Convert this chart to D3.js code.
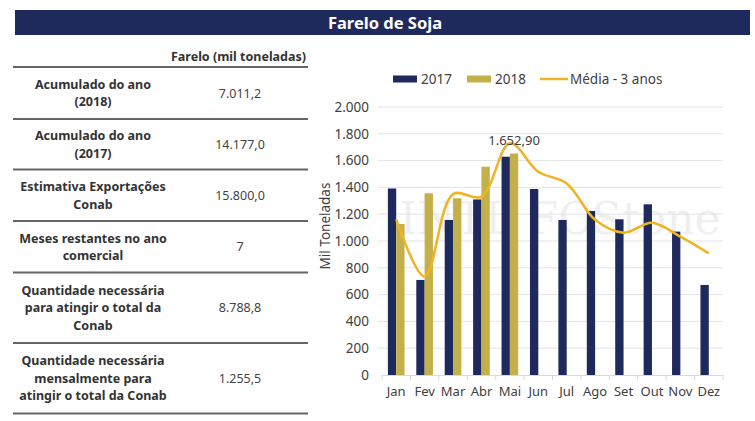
<!DOCTYPE html>
<html><head><meta charset="utf-8">
<script src="https://cdn.jsdelivr.net/npm/d3@7"></script>
<style>body{margin:0;background:#fff}svg{display:block}</style>
</head><body>
<svg id="c" width="755" height="421"></svg>
<script>
const title = "Farelo de Soja";
const tableHeader = "Farelo (mil toneladas)";
const tableLabels = [
  ["Acumulado do ano", "(2018)"],
  ["Acumulado do ano", "(2017)"],
  ["Estimativa Exportações", "Conab"],
  ["Meses restantes no ano", "comercial"],
  ["Quantidade necessária", "para atingir o total da", "Conab"],
  ["Quantidade necessária", "mensalmente para", "atingir o total da Conab"]
];
const tableValues = ["7.011,2", "14.177,0", "15.800,0", "7", "8.788,8", "1.255,5"];

const months = ["Jan","Fev","Mar","Abr","Mai","Jun","Jul","Ago","Set","Out","Nov","Dez"];
const s2017 = [1392,709,1157,1310,1629,1388,1157,1224,1162,1274,1070,672];
const s2018 = [1127,1356,1319,1555,1652.9,null,null,null,null,null,null,null];
const media3 = [1162,735,1350,1330,1729,1517,1430,1158,1062,1137,1032,908];
const seriesNames = ["2017","2018","Média - 3 anos"];
const yTicks = [0,200,400,600,800,1000,1200,1400,1600,1800,2000];
const yTitle = "Mil Toneladas";
const labelText = "1.652,90";

const C17 = "#1f2a5c", C18 = "#c4b04a", CM = "#f0b323";
const loc = d3.formatLocale({decimal:",", thousands:".", grouping:[3], currency:["R$",""]});
const fmt = loc.format(",.0f");

const svg = d3.select("#c");
const FONT = "'Noto Sans', 'Open Sans', sans-serif";

// title bar
svg.append("rect").attr("x",15).attr("y",10).attr("width",735).attr("height",25).attr("fill",C17);
svg.append("text").attr("x",385).attr("y",28.5).attr("text-anchor","middle")
  .attr("fill","#fff").attr("font-family",FONT).attr("font-weight","bold").attr("font-size",16.5)
  .text(title);

// table
const tbl = svg.append("g").attr("font-family",FONT);
tbl.append("text").attr("x",306).attr("y",61).attr("text-anchor","end")
  .attr("font-weight","bold").attr("font-size",12.5).attr("fill","#333").text(tableHeader);
const lineYs = [67,119,169.5,221,272.5,343,413.5];
lineYs.forEach(y => tbl.append("line").attr("x1",13).attr("x2",308).attr("y1",y).attr("y2",y)
  .attr("stroke","#666").attr("stroke-width",2));
tableLabels.forEach((lines,i) => {
  const top = lineYs[i], bot = lineYs[i+1], mid = (top+bot)/2;
  const lh = 17.5;
  const start = mid - (lines.length-1)*lh/2;
  lines.forEach((t,j) => tbl.append("text").attr("x",93).attr("y",start + j*lh + 4.5)
    .attr("text-anchor","middle").attr("font-weight","bold").attr("font-size",12.5)
    .attr("fill","#333").text(t));
  tbl.append("text").attr("x",240).attr("y",mid+4.5).attr("text-anchor","middle")
    .attr("font-size",12.5).attr("fill","#444").text(tableValues[i]);
});

// chart
const x = d3.scaleBand().domain(months).range([382,723]).padding(0);
const y = d3.scaleLinear().domain([0,2000]).range([375,107]);
const g = svg.append("g").attr("font-family",FONT);

// watermark
g.append("text").attr("x",560).attr("y",234).attr("text-anchor","middle")
  .attr("font-family","'DejaVu Serif', serif").attr("font-size",44).attr("fill","#000")
  .attr("opacity",0.06).text("INTL FCStone");

// gridlines
g.selectAll(".grid").data(yTicks.filter(d=>d>0)).join("line")
  .attr("x1",378).attr("x2",723).attr("y1",d=>y(d)).attr("y2",d=>y(d))
  .attr("stroke","#e3e3e3").attr("stroke-width",1);

// x axis
const xAxis = g.append("g").attr("transform",`translate(0,${y(0)})`)
  .call(d3.axisBottom(x).tickSize(0).tickPadding(12));
xAxis.select(".domain").attr("stroke","#d9d9d9");
xAxis.selectAll("text").attr("font-family",FONT).attr("font-size",13).attr("fill","#404040");
const bounds = months.map(m=>x(m)).concat([x.range()[1]]);
g.selectAll(".xt").data(bounds).join("line").attr("x1",d=>d).attr("x2",d=>d)
  .attr("y1",y(0)).attr("y2",y(0)+5).attr("stroke","#d9d9d9");

// y axis
const yAxis = g.append("g").attr("transform","translate(378,0)")
  .call(d3.axisLeft(y).tickValues(yTicks).tickSize(0).tickPadding(9).tickFormat(fmt));
yAxis.select(".domain").remove();
yAxis.selectAll("text").attr("font-family",FONT).attr("font-size",13.5).attr("fill","#404040");
g.append("text").attr("transform","translate(330,226) rotate(-90)").attr("text-anchor","middle")
  .attr("font-size",13.5).attr("fill","#404040").text(yTitle);

// bars
const bw = x.bandwidth()*0.293;
g.selectAll(".b17").data(months).join("rect")
  .attr("x",(m)=>x(m)+x.bandwidth()/2-bw).attr("width",bw)
  .attr("y",(m,i)=>y(s2017[i])).attr("height",(m,i)=>y(0)-y(s2017[i])).attr("fill",C17);
g.selectAll(".b18").data(months.filter((m,i)=>s2018[i]!=null)).join("rect")
  .attr("x",(m)=>x(m)+x.bandwidth()/2).attr("width",bw)
  .attr("y",(m,i)=>y(s2018[i])).attr("height",(m,i)=>y(0)-y(s2018[i])).attr("fill",C18);

// line
const line = d3.line().x((d,i)=>x(months[i])+x.bandwidth()/2).y(d=>y(d))
  .curve(d3.curveCatmullRom.alpha(0.5));
g.append("path").datum(media3).attr("d",line).attr("fill","none")
  .attr("stroke",CM).attr("stroke-width",2.5);

// data label
g.append("text").attr("x",x("Mai")+x.bandwidth()/2+bw/2).attr("y",y(s2018[4])-9)
  .attr("text-anchor","middle").attr("font-size",13).attr("fill","#404040").text(labelText);

// legend
const lg = g.append("g").attr("font-size",13.5).attr("fill","#404040");
lg.append("rect").attr("x",393).attr("y",75.5).attr("width",24).attr("height",7).attr("fill",C17);
lg.append("text").attr("x",421).attr("y",84).text(seriesNames[0]);
lg.append("rect").attr("x",467).attr("y",75.5).attr("width",24).attr("height",7).attr("fill",C18);
lg.append("text").attr("x",495).attr("y",84).text(seriesNames[1]);
lg.append("line").attr("x1",540).attr("x2",568).attr("y1",79).attr("y2",79).attr("stroke",CM).attr("stroke-width",2.5);
lg.append("text").attr("x",570).attr("y",84).text(seriesNames[2]);
</script>
</body></html>
